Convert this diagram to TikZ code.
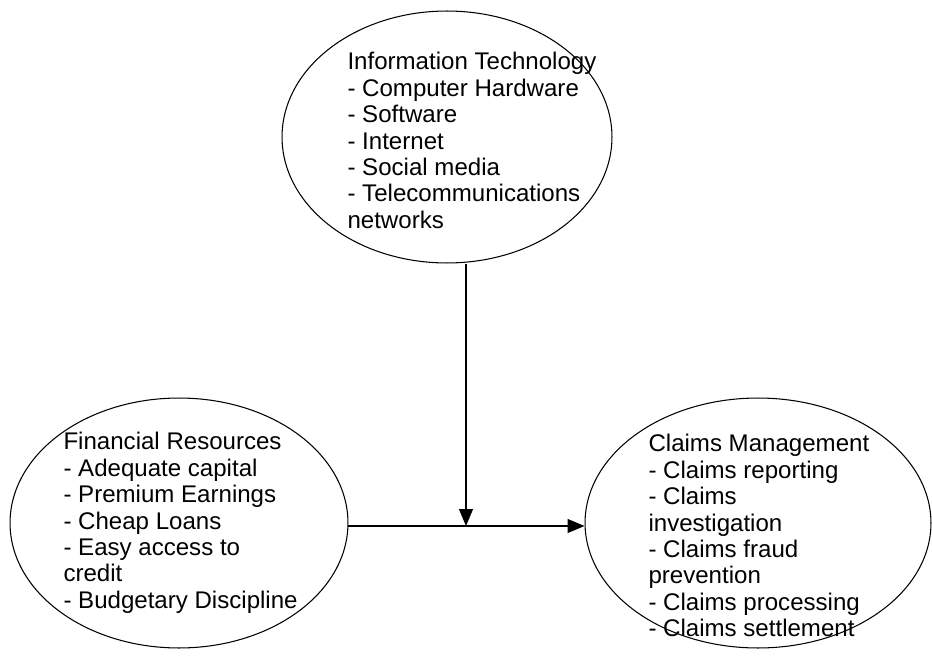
\documentclass[tikz,border=0pt]{standalone}
\usepackage{fontspec}
\setmainfont{Liberation Sans}
\usepackage{tikz}
\usetikzlibrary{shapes.geometric,arrows.meta,positioning}

\begin{document}
\begin{tikzpicture}[
  x=0.02cm, y=-0.02cm,
  >={Triangle[length=0.34cm,width=0.28cm]}, line width=0.6pt,
  every node/.style={font=\fontsize{13.7}{15}\selectfont},
  factor/.style={ellipse, draw, inner sep=0pt},
  items/.style={align=left, inner sep=0pt, anchor=north west}
]
\useasboundingbox (0,0) rectangle (932,658);

% the three factors
\node[factor, minimum width=6.6cm, minimum height=5.04cm] (it) at (447,137) {};
\node[factor, minimum width=6.76cm, minimum height=5.0cm] (fin) at (179,523) {};
\node[factor, minimum width=6.92cm, minimum height=5.0cm] (claims) at (758,523) {};

% their item lists
\node[items] (itList) at (347,52)
  {Information Technology\\- Computer Hardware\\- Software\\- Internet\\- Social media\\- Telecommunications\\networks};
\node[items] (finList) at (63,432)
  {Financial Resources\\- Adequate capital\\- Premium Earnings\\- Cheap Loans\\- Easy access to\\credit\\- Budgetary Discipline};
\node[items] (claimsList) at (648,434)
  {Claims Management\\- Claims reporting\\- Claims\\investigation\\- Claims fraud\\prevention\\- Claims processing\\- Claims settlement};

% moderating link meets the main path here
\coordinate (join) at (466,526);

\draw[->] (fin.east |- join) -- (claims.west |- join);
\draw[->] (join |- it.south) -- (join);
\end{tikzpicture}
\end{document}
